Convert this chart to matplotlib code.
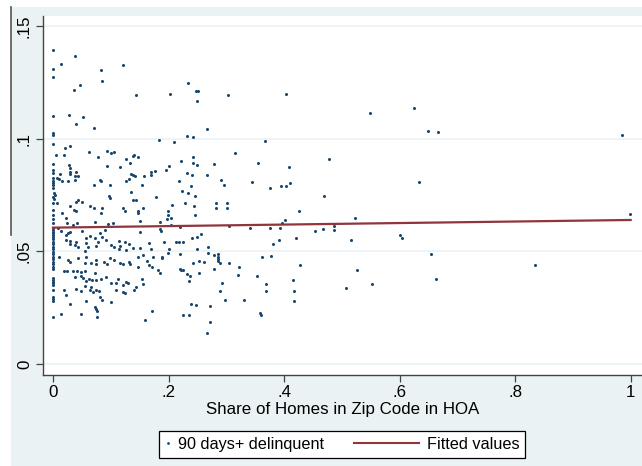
import matplotlib
matplotlib.use("Agg")
import matplotlib.pyplot as plt
from matplotlib.lines import Line2D
from matplotlib.patches import Rectangle
from matplotlib.legend_handler import HandlerBase

plt.rcParams['font.family'] = ['Liberation Sans', 'DejaVu Sans']

# share of homes in HOA (x) vs 90 days+ delinquent rate (y)
share_hoa = [
    0.000, 0.038, 0.014, 0.000, 0.000, 0.0825, 0.085, 0.122, 0.037, 0.047, 0.1436, 0.203,
    0.000, 0.027, 0.052, 0.040, 0.0715, 0.000, 0.000, 0.183, 0.209, 0.000, 0.0208, 0.029,
    0.0046, 0.019, 0.062, 0.078, 0.093, 0.101, 0.105, 0.126, 0.133, 0.138, 0.141, 0.148,
    0.000, 0.028, 0.029, 0.000, 0.000, 0.0127, 0.029, 0.029, 0.039, 0.0375, 0.0427, 0.094,
    0.1165, 0.1355, 0.138, 0.142, 0.157, 0.170, 0.170, 0.177, 0.195, 0.201, 0.222, 0.000,
    0.000, 0.000, 0.000, 0.000, 0.0075, 0.0104, 0.015, 0.0254, 0.0386, 0.071, 0.082, 0.0835,
    0.098, 0.126, 0.131, 0.154, 0.2175,
    0.002, 0.004, 0.000, 0.002, 0.000, 0.0063, 0.043, 0.0398, 0.0496, 0.030, 0.037, 0.040,
    0.0634, 0.0704, 0.084, 0.0825, 0.097, 0.099, 0.1205, 0.124, 0.1355, 0.139, 0.143, 0.1465,
    0.148, 0.1557, 0.179, 0.199, 0.199, 0.197, 0.2065, 0.2036, 0.000, 0.000, 0.000, 0.000,
    0.015, 0.0225, 0.024, 0.042, 0.0346, 0.0727, 0.095, 0.1038, 0.150, 0.150, 0.1857, 0.1845,
    0.1874, 0.2036, 0.2123, 0.218,
    0.000, 0.000, 0.000, 0.000, 0.000, 0.000, 0.000, 0.000, 0.000, 0.000, 0.000, 0.000,
    0.000, 0.000, 0.000, 0.000, 0.000, 0.000, 0.000, 0.000, 0.000, 0.000, 0.000, 0.000,
    0.000, 0.000, 0.000, 0.000,
    0.0087, 0.0144, 0.0225, 0.0254, 0.030, 0.023, 0.029, 0.029, 0.0375, 0.043, 0.040, 0.050,
    0.0565, 0.0634, 0.0577, 0.0606, 0.0548, 0.0727, 0.078, 0.075, 0.081, 0.0853, 0.0894, 0.091,
    0.101, 0.105, 0.114, 0.1165, 0.1137, 0.1246, 0.127, 0.1315, 0.1384, 0.147, 0.1505, 0.1557,
    0.166, 0.170, 0.173, 0.189, 0.193, 0.2007, 0.199, 0.0104, 0.026, 0.029, 0.043, 0.0565,
    0.055, 0.066, 0.0738, 0.075, 0.088, 0.094, 0.098, 0.1055, 0.1154, 0.121, 0.1315, 0.134,
    0.147, 0.1626, 0.166, 0.171, 0.182, 0.1857, 0.1886, 0.222, 0.019, 0.0248, 0.0346, 0.042,
    0.049, 0.0548, 0.048, 0.0375, 0.0623, 0.068, 0.0577, 0.052, 0.072, 0.075, 0.0836, 0.092,
    0.101, 0.1085, 0.1125, 0.121, 0.127, 0.130, 0.141, 0.144, 0.1545, 0.1557, 0.040, 0.049,
    0.0548, 0.0634, 0.066, 0.069, 0.075, 0.079, 0.081, 0.0853, 0.101, 0.1095, 0.121, 0.124,
    0.0185, 0.022, 0.029, 0.0577, 0.072, 0.074, 0.076, 0.0767, 0.049, 0.0138, 0.000, 0.1586,
    0.172,
    0.2336, 0.247, 0.251, 0.2497, 0.3033, 0.4026, 0.266, 0.2324, 0.2427, 0.3662, 0.315, 0.4775,
    0.2427, 0.2427, 0.2486, 0.278, 0.2324, 0.240, 0.267, 0.3553, 0.409, 0.291, 0.2965, 0.3437,
    0.2393, 0.3754, 0.3945, 0.4026, 0.4105,
    0.2226, 0.2336, 0.2457, 0.2284, 0.2434, 0.2457, 0.282, 0.282, 0.302, 0.3005, 0.469, 0.4261,
    0.402, 0.396, 0.2197, 0.304, 0.3408, 0.3754, 0.3927, 0.4533, 0.4666, 0.2244, 0.2405, 0.2486,
    0.2555, 0.3811, 0.3915, 0.420, 0.2497, 0.268, 0.2687, 0.279, 0.2855, 0.286, 0.286, 0.286,
    0.289, 0.3045, 0.2197, 0.361, 0.378, 0.2427, 0.2526, 0.2612, 0.278, 0.2197, 0.2244, 0.2313,
    0.2365, 0.2358, 0.2526, 0.3218, 0.3206, 0.3524, 0.4273, 0.2924, 0.289, 0.2976, 0.330, 0.3685,
    0.368, 0.4147, 0.417, 0.417, 0.2388, 0.248, 0.271, 0.2244, 0.2348, 0.358, 0.3593, 0.271,
    0.266,
    0.5484, 0.6246, 0.6488, 0.666, 0.9844, 0.6337, 0.523, 0.9995, 0.4867, 0.4867, 0.516, 0.6015,
    0.6043, 0.6552, 0.5254, 0.5524, 0.508, 0.6626, 0.835,
]
delinq_90 = [
    0.1392, 0.1366, 0.1333, 0.1310, 0.1272, 0.1303, 0.1255, 0.1328, 0.1217, 0.1238, 0.1194, 0.1197,
    0.1101, 0.1104, 0.1098, 0.1064, 0.1049, 0.1024, 0.1018, 0.0994, 0.0987, 0.0975, 0.0957, 0.0969,
    0.0928, 0.0926, 0.0942, 0.0920, 0.0945, 0.0938, 0.0941, 0.0910, 0.0892, 0.0922, 0.0928, 0.0920,
    0.0886, 0.0884, 0.0869, 0.0861, 0.0846, 0.0843, 0.0851, 0.0842, 0.0853, 0.0836, 0.0834, 0.0879,
    0.0874, 0.0842, 0.0839, 0.0833, 0.0836, 0.0853, 0.0839, 0.0855, 0.0859, 0.0880, 0.0901, 0.0824,
    0.0814, 0.0803, 0.0792, 0.0783, 0.0827, 0.0821, 0.0814, 0.0811, 0.0815, 0.0793, 0.0817, 0.0812,
    0.0794, 0.0814, 0.0822, 0.0794, 0.0814,
    0.0758, 0.0750, 0.0740, 0.0731, 0.0713, 0.0713, 0.0728, 0.0720, 0.0720, 0.0700, 0.0682, 0.0678,
    0.0703, 0.0691, 0.0691, 0.0669, 0.0746, 0.0735, 0.0691, 0.0680, 0.0765, 0.0728, 0.0728, 0.0680,
    0.0669, 0.0691, 0.0740, 0.0680, 0.0660, 0.0642, 0.0704, 0.0647, 0.0683, 0.0661, 0.0642, 0.0624,
    0.0669, 0.0647, 0.0624, 0.0624, 0.0618, 0.0629, 0.0620, 0.0624, 0.0635, 0.0587, 0.0630, 0.0598,
    0.0589, 0.0618, 0.0541, 0.0543,
    0.0602, 0.0595, 0.0587, 0.0580, 0.0573, 0.0565, 0.0553, 0.0543, 0.0533, 0.0521, 0.0509, 0.0498,
    0.0488, 0.0476, 0.0465, 0.0454, 0.0444, 0.0432, 0.0420, 0.0380, 0.0373, 0.0365, 0.0358, 0.0351,
    0.0328, 0.0299, 0.0290, 0.0281,
    0.0602, 0.0592, 0.0573, 0.0580, 0.0586, 0.0550, 0.0547, 0.0531, 0.0528, 0.0520, 0.0543, 0.0589,
    0.0561, 0.0570, 0.0536, 0.0520, 0.0503, 0.0558, 0.0543, 0.0524, 0.0580, 0.0562, 0.0595, 0.0550,
    0.0528, 0.0518, 0.0547, 0.0524, 0.0509, 0.0543, 0.0506, 0.0533, 0.0513, 0.0476, 0.0513, 0.0484,
    0.0536, 0.0509, 0.0476, 0.0472, 0.0543, 0.0509, 0.0491, 0.0476, 0.0462, 0.0454, 0.0469, 0.0476,
    0.0450, 0.0447, 0.0462, 0.0444, 0.0454, 0.0444, 0.0469, 0.0462, 0.0447, 0.0444, 0.0454, 0.0444,
    0.0432, 0.0457, 0.0439, 0.0432, 0.0417, 0.0402, 0.0476, 0.0417, 0.0413, 0.0411, 0.0411, 0.0413,
    0.0410, 0.0413, 0.0390, 0.0385, 0.0376, 0.0373, 0.0370, 0.0380, 0.0402, 0.0373, 0.0376, 0.0385,
    0.0361, 0.0361, 0.0376, 0.0350, 0.0365, 0.0358, 0.0328, 0.0340, 0.0376, 0.0355, 0.0331, 0.0325,
    0.0346, 0.0328, 0.0343, 0.0321, 0.0328, 0.0325, 0.0299, 0.0284, 0.0276, 0.0328, 0.0321, 0.0317,
    0.0328, 0.0306, 0.0265, 0.0280, 0.0252, 0.0244, 0.0237, 0.0210, 0.0222, 0.0222, 0.0210, 0.0195,
    0.0237,
    0.1246, 0.1210, 0.1210, 0.1166, 0.1194, 0.1197, 0.1044, 0.1010, 0.1007, 0.0990, 0.0935, 0.0908,
    0.0917, 0.0892, 0.0884, 0.0888, 0.0849, 0.0839, 0.0839, 0.0894, 0.0873, 0.0818, 0.0794, 0.0808,
    0.0790, 0.0780, 0.0789, 0.0791, 0.0805,
    0.0768, 0.0760, 0.0747, 0.0713, 0.0703, 0.0660, 0.0716, 0.0691, 0.0716, 0.0691, 0.0747, 0.0678,
    0.0639, 0.0624, 0.0607, 0.0614, 0.0602, 0.0602, 0.0602, 0.0589, 0.0598, 0.0540, 0.0561, 0.0564,
    0.0578, 0.0533, 0.0549, 0.0561, 0.0512, 0.0518, 0.0494, 0.0485, 0.0490, 0.0476, 0.0467, 0.0458,
    0.0447, 0.0447, 0.0488, 0.0473, 0.0478, 0.0447, 0.0458, 0.0453, 0.0422, 0.0422, 0.0417, 0.0398,
    0.0390, 0.0368, 0.0402, 0.0429, 0.0395, 0.0390, 0.0439, 0.0361, 0.0323, 0.0283, 0.0283, 0.0354,
    0.0324, 0.0371, 0.0323, 0.0278, 0.0265, 0.0260, 0.0257, 0.0219, 0.0219, 0.0225, 0.0217, 0.0185,
    0.0136,
    0.1114, 0.1135, 0.1035, 0.1028, 0.1018, 0.0808, 0.0649, 0.0664, 0.0614, 0.0594, 0.0550, 0.0574,
    0.0559, 0.0488, 0.0416, 0.0356, 0.0336, 0.0379, 0.0439,
]

# fitted values line endpoints
fit_x = [0.0, 1.0]
fit_y = [0.0605, 0.0639]

xticks = [0, 0.2, 0.4, 0.6, 0.8, 1.0]
xtick_labels = ['0', '.2', '.4', '.6', '.8', '1']
yticks = [0, 0.05, 0.1, 0.15]
ytick_labels = ['0', '.05', '.1', '.15']

BG = '#eaf2f3'
NAVY = '#1a476f'
MAROON = '#90353b'
FS = 12.2
LEG_FS = 11.7


class DotHandler(HandlerBase):
    # tiny dot sitting just inside the left edge of the handle box
    def create_artists(self, legend, orig_handle, xdescent, ydescent,
                       width, height, fontsize, trans):
        dot = Line2D([width * 0.4], [height / 2], ls='', marker='o', ms=2.0,
                     mew=0, color=NAVY, transform=trans)
        return [dot]


class LongLineHandler(HandlerBase):
    # line that reaches back into the column gap, as in the Stata legend
    def create_artists(self, legend, orig_handle, xdescent, ydescent,
                       width, height, fontsize, trans):
        ln = Line2D([width - 48.7, width - 1.9], [height / 2, height / 2],
                    color=MAROON, lw=1.5, transform=trans)
        return [ln]


fig = plt.figure(figsize=(6.42, 4.66), dpi=100, facecolor='white')
fig.patches.append(Rectangle((11 / 642, 0), 1, 459 / 466, transform=fig.transFigure,
                             facecolor=BG, edgecolor='none', zorder=-10))
fig.lines.append(Line2D([11.5 / 642, 11.5 / 642], [(466 - 235) / 466, 459 / 466],
                        transform=fig.transFigure, color='#555555', lw=1.2))

ax = fig.add_axes([43 / 642, 91 / 466, 1 - 43 / 642, 359 / 466])
ax.set_facecolor('white')

for yv in yticks:
    ax.axhline(yv, color=BG, lw=1.2, zorder=0)

ax.plot(share_hoa, delinq_90, ls='', marker='o', ms=2.2, mew=0, color=NAVY,
        zorder=3, label='90 days+ delinquent')
ax.plot(fit_x, fit_y, color=MAROON, lw=1.6, zorder=4, label='Fitted values')

ax.set_xlim(-0.0173, 1.0196)
ax.set_ylim(-0.00488, 0.1544)

ax.set_xticks(xticks)
ax.set_xticklabels(xtick_labels, fontsize=FS)
ax.set_yticks(yticks)
ax.set_yticklabels(ytick_labels, fontsize=FS, rotation=90, va='center')
ax.tick_params(axis='both', direction='out', length=5, width=0.9, color='#444444', pad=2.5)
ax.tick_params(axis='y', pad=3)

for side in ['top', 'right']:
    ax.spines[side].set_visible(False)
for side in ['left', 'bottom']:
    ax.spines[side].set_color('#444444')
    ax.spines[side].set_linewidth(1.0)

ax.set_xlabel('Share of Homes in Zip Code in HOA', fontsize=FS, labelpad=1)

h_dot = Line2D([], [], ls='', marker='o', color=NAVY)
h_line = Line2D([], [], color=MAROON)
leg = fig.legend([h_dot, h_line], ['90 days+ delinquent', 'Fitted values'],
                 loc='center', bbox_to_anchor=(342 / 642, 21.5 / 466), ncol=2,
                 fontsize=LEG_FS, frameon=True, fancybox=False, framealpha=1,
                 edgecolor='black', borderpad=0.34, handlelength=0.5,
                 handletextpad=0.33, columnspacing=5.5,
                 handler_map={h_dot: DotHandler(), h_line: LongLineHandler()})
leg.get_frame().set_linewidth(0.9)

fig.savefig('out.png', dpi=100, facecolor=fig.get_facecolor())
